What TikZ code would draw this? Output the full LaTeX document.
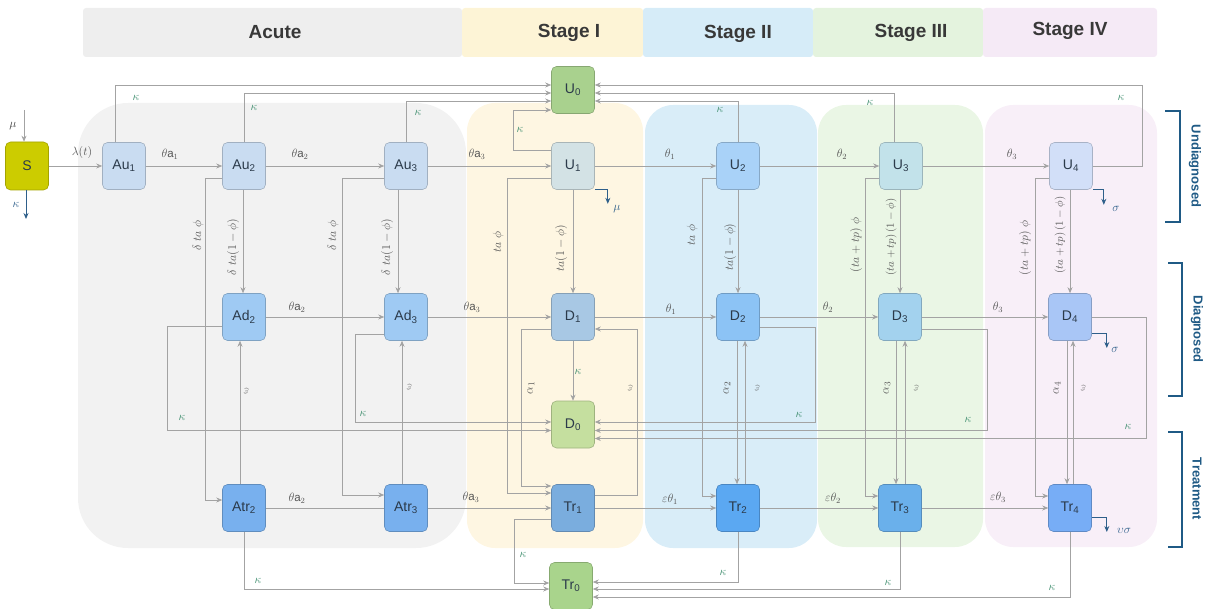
\documentclass[tikz,border=0pt]{standalone}
\usepackage{fontspec}
\setmainfont{Liberation Sans}
\usetikzlibrary{arrows.meta,calc}
\definecolor{hgray}{HTML}{EEEEEE}
\definecolor{rgray}{HTML}{F2F2F2}
\definecolor{hyel}{HTML}{FDF4D6}
\definecolor{ryel}{HTML}{FEF6E2}
\definecolor{hblue}{HTML}{D6ECF8}
\definecolor{rblue}{HTML}{D9EDF8}
\definecolor{hgreen}{HTML}{E4F3DE}
\definecolor{rgreen}{HTML}{EAF6E5}
\definecolor{hpink}{HTML}{F5EAF6}
\definecolor{rpink}{HTML}{F8EFF8}
\definecolor{linegray}{HTML}{A3A3A3}
\definecolor{labgray}{HTML}{555555}
\definecolor{kgreen}{HTML}{3C8C6C}
\definecolor{outblue}{HTML}{2E5F8A}
\definecolor{brk}{HTML}{1F5A85}
\definecolor{nodetext}{HTML}{2B3A4A}
\definecolor{cS}{HTML}{CCCC00}
\definecolor{cAu}{HTML}{C9DCF1}
\definecolor{cU0}{HTML}{A9D18E}
\definecolor{cU1}{HTML}{D3E2E5}
\definecolor{cU2}{HTML}{A9D2F8}
\definecolor{cU3}{HTML}{C2E2EA}
\definecolor{cU4}{HTML}{D2DFF8}
\definecolor{cAd}{HTML}{9FCAF3}
\definecolor{cD1}{HTML}{A8C8E4}
\definecolor{cD2}{HTML}{8CC3F5}
\definecolor{cD3}{HTML}{A3D2EE}
\definecolor{cD4}{HTML}{A9C6F6}
\definecolor{cD0}{HTML}{C5DF9F}
\definecolor{cAtr}{HTML}{78B0EE}
\definecolor{cTr1}{HTML}{7AADDE}
\definecolor{cTr2}{HTML}{5BA8F2}
\definecolor{cTr3}{HTML}{6AB0EB}
\definecolor{cTr4}{HTML}{77ADF6}
\definecolor{cTr0}{HTML}{A9D48C}
\tikzset{
  box/.style={rounded corners=5pt, minimum width=43pt, minimum height=47pt, inner sep=0pt,
    fill=#1, draw=#1!80!black, line width=0.6pt, font=\fontsize{14}{16}\selectfont, text=nodetext},
  plainline/.style={draw=linegray, line width=0.7pt},
  flow/.style={plainline, -{Stealth[length=6pt,width=5pt]}},
  outflow/.style={draw=outblue, line width=0.9pt, -{Stealth[length=6pt,width=5pt]}},
  lab/.style={font=\fontsize{11.5}{13}\selectfont, text=labgray, inner sep=0.5pt},
  klab/.style={lab, text=kgreen},
  olab/.style={lab, text=outblue},
  vlab/.style={lab, rotate=90, font=\fontsize{12.5}{14}\selectfont},
  svlab/.style={lab, rotate=90, font=\fontsize{10.5}{12}\selectfont},
  elab/.style={lab, rotate=180, font=\fontsize{12.5}{14}\selectfont},
  hdr/.style={font=\bfseries\fontsize{19}{22}\selectfont, text=black!78},
  brlab/.style={font=\bfseries\fontsize{13}{15}\selectfont, text=brk, rotate=-90},
  bracket/.style={draw=brk, line width=1.6pt}
}
\begin{document}
\begin{tikzpicture}[x=1pt,y=-1pt]
\useasboundingbox (0,0) rectangle (1206,609);
% header band
\fill[hgray, rounded corners=3pt] (83,8) rectangle (462,57);
\fill[hyel, rounded corners=3pt] (462,8) rectangle (643,57);
\fill[hblue, rounded corners=3pt] (643,8) rectangle (813,57);
\fill[hgreen, rounded corners=3pt] (813,8) rectangle (983,57);
\fill[hpink, rounded corners=3pt] (983,8) rectangle (1157,57);
\node[hdr] (hA) at (275,32) {Acute};
\node[hdr] (h1) at (569,33) {Stage I};
\node[hdr] (h2) at (738,34) {Stage II};
\node[hdr] (h3) at (911,33) {Stage III};
\node[hdr] (h4) at (1070,31) {Stage IV};
% regions
\fill[rgray, rounded corners=50pt] (78,103) rectangle (466,548);
\fill[ryel, rounded corners=28pt] (467,103) rectangle (643,548);
\fill[rblue, rounded corners=28pt] (645,105) rectangle (817,548);
\fill[rgreen, rounded corners=28pt] (818,105) rectangle (983,547);
\fill[rpink, rounded corners=28pt] (985,105) rectangle (1157,547);
% brackets
\draw[bracket] (1165,111) -- (1180,111) -- (1180,222) -- (1165,222);
\draw[bracket] (1168,263) -- (1182,263) -- (1182,396) -- (1168,396);
\draw[bracket] (1168,432) -- (1182,432) -- (1182,547) -- (1168,547);
\node[brlab] (bU) at (1195,166) {Undiagnosed};
\node[brlab] (bD) at (1197,329) {Diagnosed};
\node[brlab] (bT) at (1197,489) {Treatment};
% nodes
\node[box=cS, minimum height=48pt] (S) at (27,166) {S};
\node[box=cAu] (Au1) at (124,166) {Au\textsubscript{1}};
\node[box=cAu] (Au2) at (244,166) {Au\textsubscript{2}};
\node[box=cAu] (Au3) at (406,166) {Au\textsubscript{3}};
\node[box=cU0] (U0) at (573,90) {U\textsubscript{0}};
\node[box=cU1] (U1) at (573,166) {U\textsubscript{1}};
\node[box=cU2] (U2) at (738,166) {U\textsubscript{2}};
\node[box=cU3] (U3) at (901,166) {U\textsubscript{3}};
\node[box=cU4] (U4) at (1071,166) {U\textsubscript{4}};
\node[box=cAd] (Ad2) at (244,317) {Ad\textsubscript{2}};
\node[box=cAd] (Ad3) at (406,317) {Ad\textsubscript{3}};
\node[box=cD1] (D1) at (573,317) {D\textsubscript{1}};
\node[box=cD2] (D2) at (738,317) {D\textsubscript{2}};
\node[box=cD3] (D3) at (900,317) {D\textsubscript{3}};
\node[box=cD4] (D4) at (1070,317) {D\textsubscript{4}};
\node[box=cD0] (D0) at (573,424.5) {D\textsubscript{0}};
\node[box=cAtr] (Atr2) at (244,508) {Atr\textsubscript{2}};
\node[box=cAtr] (Atr3) at (406,508) {Atr\textsubscript{3}};
\node[box=cTr1] (Tr1) at (573,508) {Tr\textsubscript{1}};
\node[box=cTr2] (Tr2) at (738,508) {Tr\textsubscript{2}};
\node[box=cTr3] (Tr3) at (900,508) {Tr\textsubscript{3}};
\node[box=cTr4] (Tr4) at (1070,508) {Tr\textsubscript{4}};
\node[box=cTr0] (Tr0) at (571,586) {Tr\textsubscript{0}};
% S in/out
\coordinate (muin) at (24,110);
\coordinate (kout) at (26,219);
\draw[flow] (muin) -- (muin |- S.north);
\node[lab, text=black!75] (lmu) at (13,126) {$\mu$};
\draw[outflow] (S.south -| kout) -- (kout);
\node[olab] (lks) at (16,205) {$\kappa$};
% top row flows
\draw[flow] (S) -- (Au1);
\draw[flow] (Au1) -- (Au2);
\draw[flow] (Au2) -- (Au3);
\draw[flow] (Au3) -- (U1);
\draw[flow] (U1) -- (U2);
\draw[flow] (U2) -- (U3);
\draw[flow] (U3) -- (U4);
\node[lab] at (82,153) {$\lambda(t)$};
\node[lab] at (170,154) {$\theta$a$_1$};
\node[lab] at (300,154) {$\theta$a$_2$};
\node[lab] at (477,154) {$\theta$a$_3$};
\node[lab] at (670,154) {$\theta_1$};
\node[lab] at (842,154) {$\theta_2$};
\node[lab] at (1012,154) {$\theta_3$};
% kappa to U0
\draw[flow] ([xshift=-9pt]Au1.north) |- ([yshift=5pt]U0.west);
\draw[flow] (Au2.north) |- ([yshift=-3pt]U0.west);
\draw[flow] (Au3.north) |- ([yshift=-11pt]U0.west);
\draw[flow] ([yshift=16pt]U1.west) -- ++(-38,0) |- ([yshift=-20pt]U0.west);
\draw[flow] (U2.north) |- ([yshift=-11pt]U0.east);
\draw[flow] ([xshift=-7pt]U3.north) |- ([yshift=-3pt]U0.east);
\draw[flow] (U4.east) -- ++(50,0) |- ([yshift=5pt]U0.east);
\node[klab] at (136,98) {$\kappa$};
\node[klab] at (254,108) {$\kappa$};
\node[klab] at (418,113) {$\kappa$};
\node[klab] at (520,130) {$\kappa$};
\node[klab] at (720,110) {$\kappa$};
\node[klab] at (870,103) {$\kappa$};
\node[klab] at (1121,98) {$\kappa$};
% outflows
\draw[outflow] (U1.south east) -- ++(13,0) -- ++(0,14);
\node[olab] at (617,209) {$\mu$};
\draw[outflow] (U4.south east) -- ++(11,0) -- ++(0,15);
\node[olab] at (1116,209) {$\sigma$};
\draw[outflow] ([yshift=-16pt]D4.east) -- ++(15,0) -- ++(0,15);
\node[olab] at (1115,350) {$\sigma$};
\draw[outflow] ([yshift=-9pt]Tr4.east) -- ++(15,0) -- ++(0,15);
\node[olab] at (1124,531) {$\upsilon\sigma$};
% acute vertical flows
\draw[flow] ([xshift=-1pt]Au2.south) -- ([xshift=-1pt]Ad2.north);
\node[vlab] at (233,247) {$\delta\ ta(1-\phi)$};
\draw[flow] ([yshift=-12pt]Au2.west) -- ++(-17,0) |- ([yshift=8pt]Atr2.west);
\node[vlab] at (198,236) {$\delta\ ta\ \phi$};
\draw[flow] ([xshift=-4pt]Atr2.north) -- ([xshift=-4pt]Ad2.south);
\node[elab] at (246,391) {$\varepsilon$};
\draw[flow] ([xshift=-8pt]Au3.south) -- ([xshift=-8pt]Ad3.north);
\node[vlab] at (387,247) {$\delta\ ta(1-\phi)$};
\draw[flow] ([yshift=-12pt]Au3.west) -- ++(-42,0) |- ([yshift=13pt]Atr3.west);
\node[vlab] at (333,236) {$\delta\ ta\ \phi$};
\draw[flow] ([xshift=-4pt]Atr3.north) -- ([xshift=-4pt]Ad3.south);
\node[elab] at (409,387) {$\varepsilon$};
% middle row flows
\draw[flow] (Ad2) -- (Ad3);
\draw[flow] (Ad3) -- (D1);
\draw[flow] (D1) -- (D2);
\draw[flow] (D2) -- (D3);
\draw[flow] (D3) -- (D4);
\node[lab] at (297,307) {$\theta$a$_2$};
\node[lab] at (472,307) {$\theta$a$_3$};
\node[lab] at (671,309) {$\theta_1$};
\node[lab] at (828,307) {$\theta_2$};
\node[lab] at (998,307) {$\theta_3$};
% kappa to D0
\draw[flow] ([yshift=-9pt]Ad2.west) -- ++(-55,0) |- ([yshift=-6pt]D0.west);
\draw[flow] ([yshift=-17pt]Ad3.west) -- ++(-29,0) |- ([yshift=2.5pt]D0.west);
\draw[flow] (D1) -- (D0);
\draw[flow] ([yshift=-10pt]D2.east) -- ++(56,0) |- ([yshift=2.5pt]D0.east);
\draw[flow] ([yshift=-12pt]D3.east) -- ++(66,0) |- ([yshift=-6pt]D0.east);
\draw[flow] (D4.east) -- ++(55,0) |- ([yshift=-14pt]D0.east);
\node[klab] at (182,418) {$\kappa$};
\node[klab] at (363,414) {$\kappa$};
\node[klab] at (578,372) {$\kappa$};
\node[klab] at (799,415) {$\kappa$};
\node[klab] at (968,420) {$\kappa$};
\node[klab] at (1128,427) {$\kappa$};
% stage I vertical
\draw[flow] (U1) -- (D1);
\node[vlab] at (561,248) {$ta(1-\phi)$};
\draw[flow] ([yshift=-12pt]U1.west) -- ++(-44,0) |- ([yshift=15pt]Tr1.west);
\node[vlab] at (498,242) {$ta\ \phi$};
\draw[flow] ([yshift=-12pt]D1.west) -- ++(-30,0) |- ([yshift=22pt]Tr1.west);
\node[vlab] at (531,388) {$\alpha_1$};
\draw[flow] ([yshift=13pt]Tr1.east) -- ++(43,0) |- ([yshift=-12pt]D1.east);
\node[elab] at (630,388) {$\varepsilon$};
% stage II vertical
\draw[flow] (U2) -- (D2);
\node[vlab] at (730,247) {$ta(1-\phi)$};
\draw[flow] ([yshift=-12pt]U2.west) -- ++(-14,0) |- ([yshift=12pt]Tr2.west);
\node[vlab] at (692,235) {$ta\ \phi$};
\draw[flow] ([xshift=-1pt]D2.south) -- ([xshift=-1pt]Tr2.north);
\node[vlab] at (727,388) {$\alpha_2$};
\draw[flow] ([xshift=7pt]Tr2.north) -- ([xshift=7pt]D2.south);
\node[elab] at (757,388) {$\varepsilon$};
% stage III vertical
\draw[flow] (U3.south -| D3.north) -- (D3.north);
\node[svlab] at (891,237) {$(ta+tp)\,(1-\phi)$};
\draw[flow] ([yshift=-12pt]U3.west) -- ++(-14,0) |- ([yshift=12pt]Tr3.west);
\node[vlab] at (856,245) {$(ta+tp)\ \phi$};
\draw[flow] ([xshift=-4pt]D3.south) -- ([xshift=-4pt]Tr3.north);
\node[vlab] at (887,388) {$\alpha_3$};
\draw[flow] ([xshift=5pt]Tr3.north) -- ([xshift=5pt]D3.south);
\node[elab] at (916,388) {$\varepsilon$};
% stage IV vertical
\draw[flow] (U4.south -| D4.north) -- (D4.north);
\node[svlab] at (1060,235) {$(ta+tp)\,(1-\phi)$};
\draw[flow] ([yshift=-12pt]U4.west) -- ++(-14,0) |- ([yshift=12pt]Tr4.west);
\node[vlab] at (1025,248) {$(ta+tp)\ \phi$};
\draw[flow] ([xshift=-3pt]D4.south) -- ([xshift=-3pt]Tr4.north);
\node[vlab] at (1057,388) {$\alpha_4$};
\draw[flow] ([xshift=3pt]Tr4.north) -- ([xshift=3pt]D4.south);
\node[elab] at (1083,388) {$\varepsilon$};
% bottom row flows
\draw[plainline] (Atr2) -- (Atr3);
\draw[flow] (Atr3) -- (Tr1);
\draw[flow] (Tr1) -- (Tr2);
\draw[flow] (Tr2) -- (Tr3);
\draw[flow] (Tr3) -- (Tr4);
\node[lab] at (297,498) {$\theta$a$_2$};
\node[lab] at (471,497) {$\theta$a$_3$};
\node[lab] at (670,499) {$\varepsilon\theta_1$};
\node[lab] at (833,498) {$\varepsilon\theta_2$};
\node[lab] at (998,497) {$\varepsilon\theta_3$};
% kappa to Tr0
\draw[flow] (Atr2.south) |- ([yshift=-3pt]Tr0.west);
\draw[flow] ([yshift=-11pt]Tr1.west) -- ++(-37,0) |- ([yshift=3pt]Tr0.west);
\draw[flow] (Tr2.south) |- ([yshift=4pt]Tr0.east);
\draw[flow] (Tr3.south) |- ([yshift=-3pt]Tr0.east);
\draw[flow] (Tr4.south) |- ([yshift=-11pt]Tr0.east);
\node[klab] at (258,581) {$\kappa$};
\node[klab] at (523,555) {$\kappa$};
\node[klab] at (723,573) {$\kappa$};
\node[klab] at (888,583) {$\kappa$};
\node[klab] at (1052,588) {$\kappa$};
\end{tikzpicture}
\end{document}
